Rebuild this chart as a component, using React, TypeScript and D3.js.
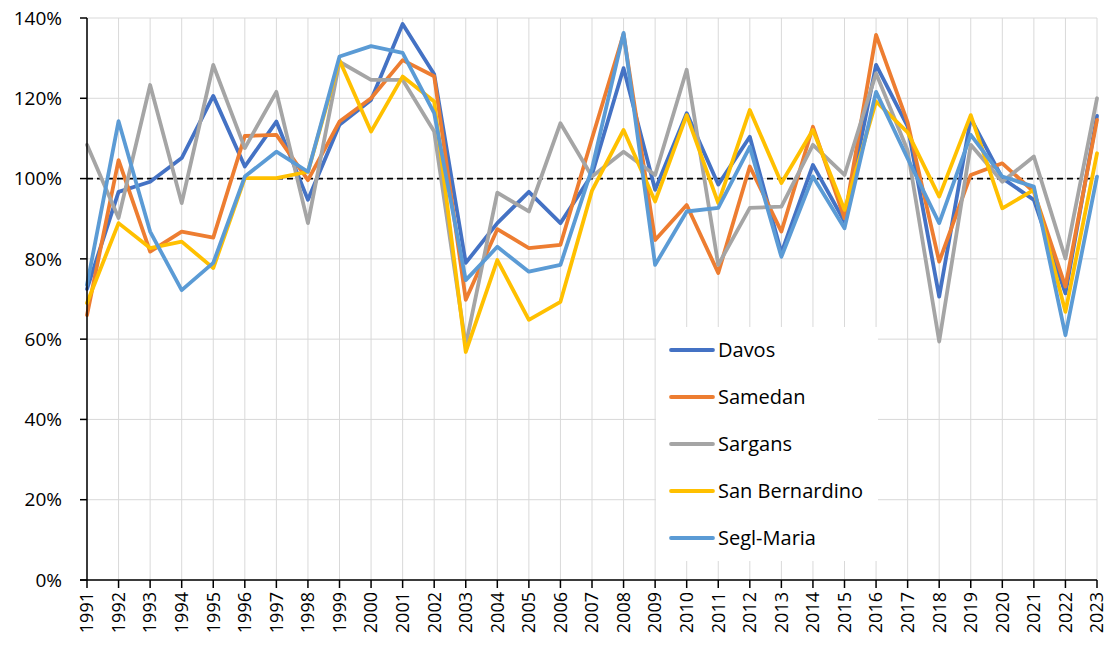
import React from "react";
import * as d3 from "d3";

const years = [
  "1991", "1992", "1993", "1994", "1995", "1996", "1997", "1998", "1999", "2000",
  "2001", "2002", "2003", "2004", "2005", "2006", "2007", "2008", "2009", "2010",
  "2011", "2012", "2013", "2014", "2015", "2016", "2017", "2018", "2019", "2020",
  "2021", "2022", "2023",
];

const davos = [
  72.5, 96.7, 99.2, 105.1, 120.6, 103, 114.2, 94.7, 113.4, 119.6,
  138.5, 126, 79, 88.9, 96.7, 88.9, 101, 127.5, 97.2, 116.3,
  98.5, 110.4, 81.5, 103.4, 89.3, 128.3, 113, 70.6, 115, 100.1,
  94.7, 71.4, 115.6,
];
const samedan = [
  66, 104.6, 81.8, 86.8, 85.3, 110.6, 110.9, 99.6, 114.2, 120,
  129.5, 125.5, 69.8, 87.4, 82.7, 83.5, 110, 136, 84.7, 93.4,
  76.5, 103, 86.8, 112.9, 90.1, 135.8, 114, 79.3, 100.9, 103.8,
  96.7, 73.1, 114.6,
];
const sargans = [
  108.4, 90.2, 123.3, 93.9, 128.3, 107.6, 121.6, 88.9, 129.1, 124.6,
  124.6, 111.7, 58.5, 96.5, 91.8, 113.8, 100.5, 106.7, 100.9, 127.1,
  78.5, 92.7, 93, 108.4, 100.9, 126.2, 107, 59.4, 108.4, 99.2,
  105.5, 80.1, 120,
];
const sanBernardino = [
  69, 88.9, 82.7, 84.3, 77.7, 100.1, 100.1, 101.7, 129.5, 111.7,
  125.4, 119.2, 56.8, 79.7, 64.8, 69.3, 97, 112.1, 94.3, 115.8,
  93.9, 117.1, 98.9, 112.1, 92.2, 119.2, 111.5, 95.5, 115.8, 92.6,
  97.2, 66.8, 106.3,
];
const seglMaria = [
  73.5, 114.3, 86.8, 72.2, 79, 100.5, 106.7, 101.7, 130.4, 133,
  131.3, 116.3, 74.7, 83, 76.8, 78.5, 102.5, 136.3, 78.5, 91.8,
  92.7, 107.9, 80.5, 100.5, 87.6, 121.6, 105, 88.9, 110.9, 100.5,
  98, 61, 100.5,
];

const seriesNames = ["Davos", "Samedan", "Sargans", "San Bernardino", "Segl-Maria"];
const seriesColors = ["#4472C4", "#ED7D31", "#A5A5A5", "#FFC000", "#5B9BD5"];
const yTicks = [0, 20, 40, 60, 80, 100, 120, 140];

const W = 1111;
const H = 650;
const left = 87;
const right = 1097;
const top = 18;
const bottom = 580;
const font = "'Open Sans', Lato, sans-serif";

export default function App() {
  const allSeries = [davos, samedan, sargans, sanBernardino, seglMaria];

  const x = d3.scalePoint<string>().domain(years).range([left, right]);
  const y = d3.scaleLinear().domain([0, 140]).range([bottom, top]);

  const line = d3
    .line<number>()
    .x((_, i) => x(years[i]) as number)
    .y((d) => y(d));

  // legend box position
  const lg = { x: 656, y: 327, w: 222, h: 234 };

  return (
    <svg
      width={W}
      height={H}
      style={{ position: "absolute", left: 0, top: 0, background: "#fff" }}
      fontFamily={font}
    >
      {/* gridlines */}
      {yTicks.map((t) => (
        <line key={"gy" + t} x1={left} x2={right} y1={y(t)} y2={y(t)} stroke="#d9d9d9" strokeWidth={1} />
      ))}
      {years.map((yr) => (
        <line key={"gx" + yr} x1={x(yr)} x2={x(yr)} y1={top} y2={bottom} stroke="#d9d9d9" strokeWidth={1} />
      ))}

      {/* 100% reference */}
      <line x1={left} x2={right} y1={y(100)} y2={y(100)} stroke="#000" strokeWidth={1.75} strokeDasharray="6,4" />

      {/* series */}
      {allSeries.map((s, i) => (
        <path
          key={seriesNames[i]}
          d={line(s) || ""}
          fill="none"
          stroke={seriesColors[i]}
          strokeWidth={3.8}
          strokeLinejoin="round"
          strokeLinecap="round"
        />
      ))}

      {/* axes */}
      <line x1={left} x2={left} y1={top} y2={bottom} stroke="#000" strokeWidth={1.5} />
      <line x1={left - 7} x2={right} y1={bottom} y2={bottom} stroke="#000" strokeWidth={1.5} />
      {yTicks.map((t) => (
        <g key={"ty" + t}>
          <line x1={left - 7} x2={left} y1={y(t)} y2={y(t)} stroke="#000" strokeWidth={1.5} />
          <text x={62} y={y(t)} dy="0.35em" textAnchor="end" fontSize={19} fill="#000">
            {t}%
          </text>
        </g>
      ))}
      {years.map((yr) => (
        <g key={"tx" + yr}>
          <line x1={x(yr)} x2={x(yr)} y1={bottom} y2={bottom + 8} stroke="#000" strokeWidth={1.5} />
          <text
            transform={`translate(${x(yr)},${bottom + 12}) rotate(-90)`}
            textAnchor="end"
            dy="0.35em"
            fontSize={18}
            fill="#000"
          >
            {yr}
          </text>
        </g>
      ))}

      {/* legend */}
      <rect x={lg.x} y={lg.y} width={lg.w} height={lg.h} fill="#fff" />
      {seriesNames.map((n, i) => {
        const cy = 350 + i * 47;
        return (
          <g key={"lg" + n}>
            <line x1={671} x2={713} y1={cy} y2={cy} stroke={seriesColors[i]} strokeWidth={3.8} strokeLinecap="round" />
            <text x={718} y={cy} dy="0.35em" fontSize={20} fill="#000">
              {n}
            </text>
          </g>
        );
      })}
    </svg>
  );
}
